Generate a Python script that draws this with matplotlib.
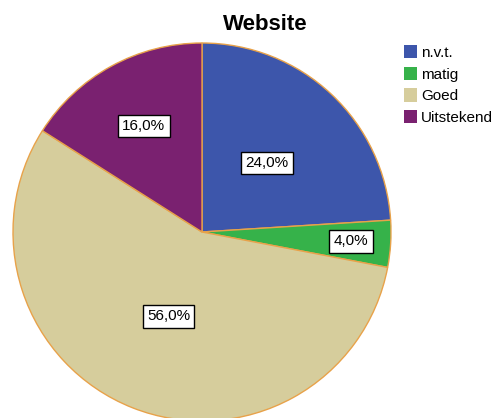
import matplotlib
matplotlib.use("Agg")
import matplotlib.pyplot as plt
import numpy as np

categories = ["n.v.t.", "matig", "Goed", "Uitstekend"]
values = [24.0, 4.0, 56.0, 16.0]
colors = ["#3d56ab", "#36b24a", "#d6cd9c", "#7a2170"]
label_dist = [0.50, 0.79, 0.48, 0.64]

plt.rcParams['font.family'] = ['Liberation Sans', 'DejaVu Sans']
fig = plt.figure(figsize=(4.97, 4.18), dpi=100)
cx, cy, r = 202, 232, 189
W, H = 497, 418
ax = fig.add_axes([(cx - r) / W, (H - cy - r) / H, 2 * r / W, 2 * r / H])
wedges, _ = ax.pie(values, colors=colors, startangle=90, counterclock=False,
                   radius=1, wedgeprops=dict(edgecolor="#e8a24a", linewidth=1.0))
ax.set_xlim(-1, 1)
ax.set_ylim(-1, 1)
ax.set_aspect('equal')
ax.axis('off')

for w, v, d in zip(wedges, values, label_dist):
    ang = np.deg2rad((w.theta1 + w.theta2) / 2)
    ax.text(d * np.cos(ang), d * np.sin(ang), f"{v:.1f}%".replace('.', ','),
            ha='center', va='center', fontsize=11,
            bbox=dict(boxstyle='square,pad=0.28', fc='white', ec='black', lw=1.0))

fig.text(265 / W, 1 - 25 / H, "Website", ha='center', va='center',
         fontsize=16, fontweight='bold')

handles = [plt.Rectangle((0, 0), 1, 1, fc=c, ec='none') for c in colors]
leg = fig.legend(handles, categories, loc='upper left',
                 bbox_to_anchor=(404 / W, 1 - 45 / H), frameon=False,
                 fontsize=11, handlelength=0.85, handleheight=0.95,
                 handletextpad=0.25, labelspacing=0.45, borderaxespad=0,
                 borderpad=0)
fig.savefig("out.png", dpi=100)
